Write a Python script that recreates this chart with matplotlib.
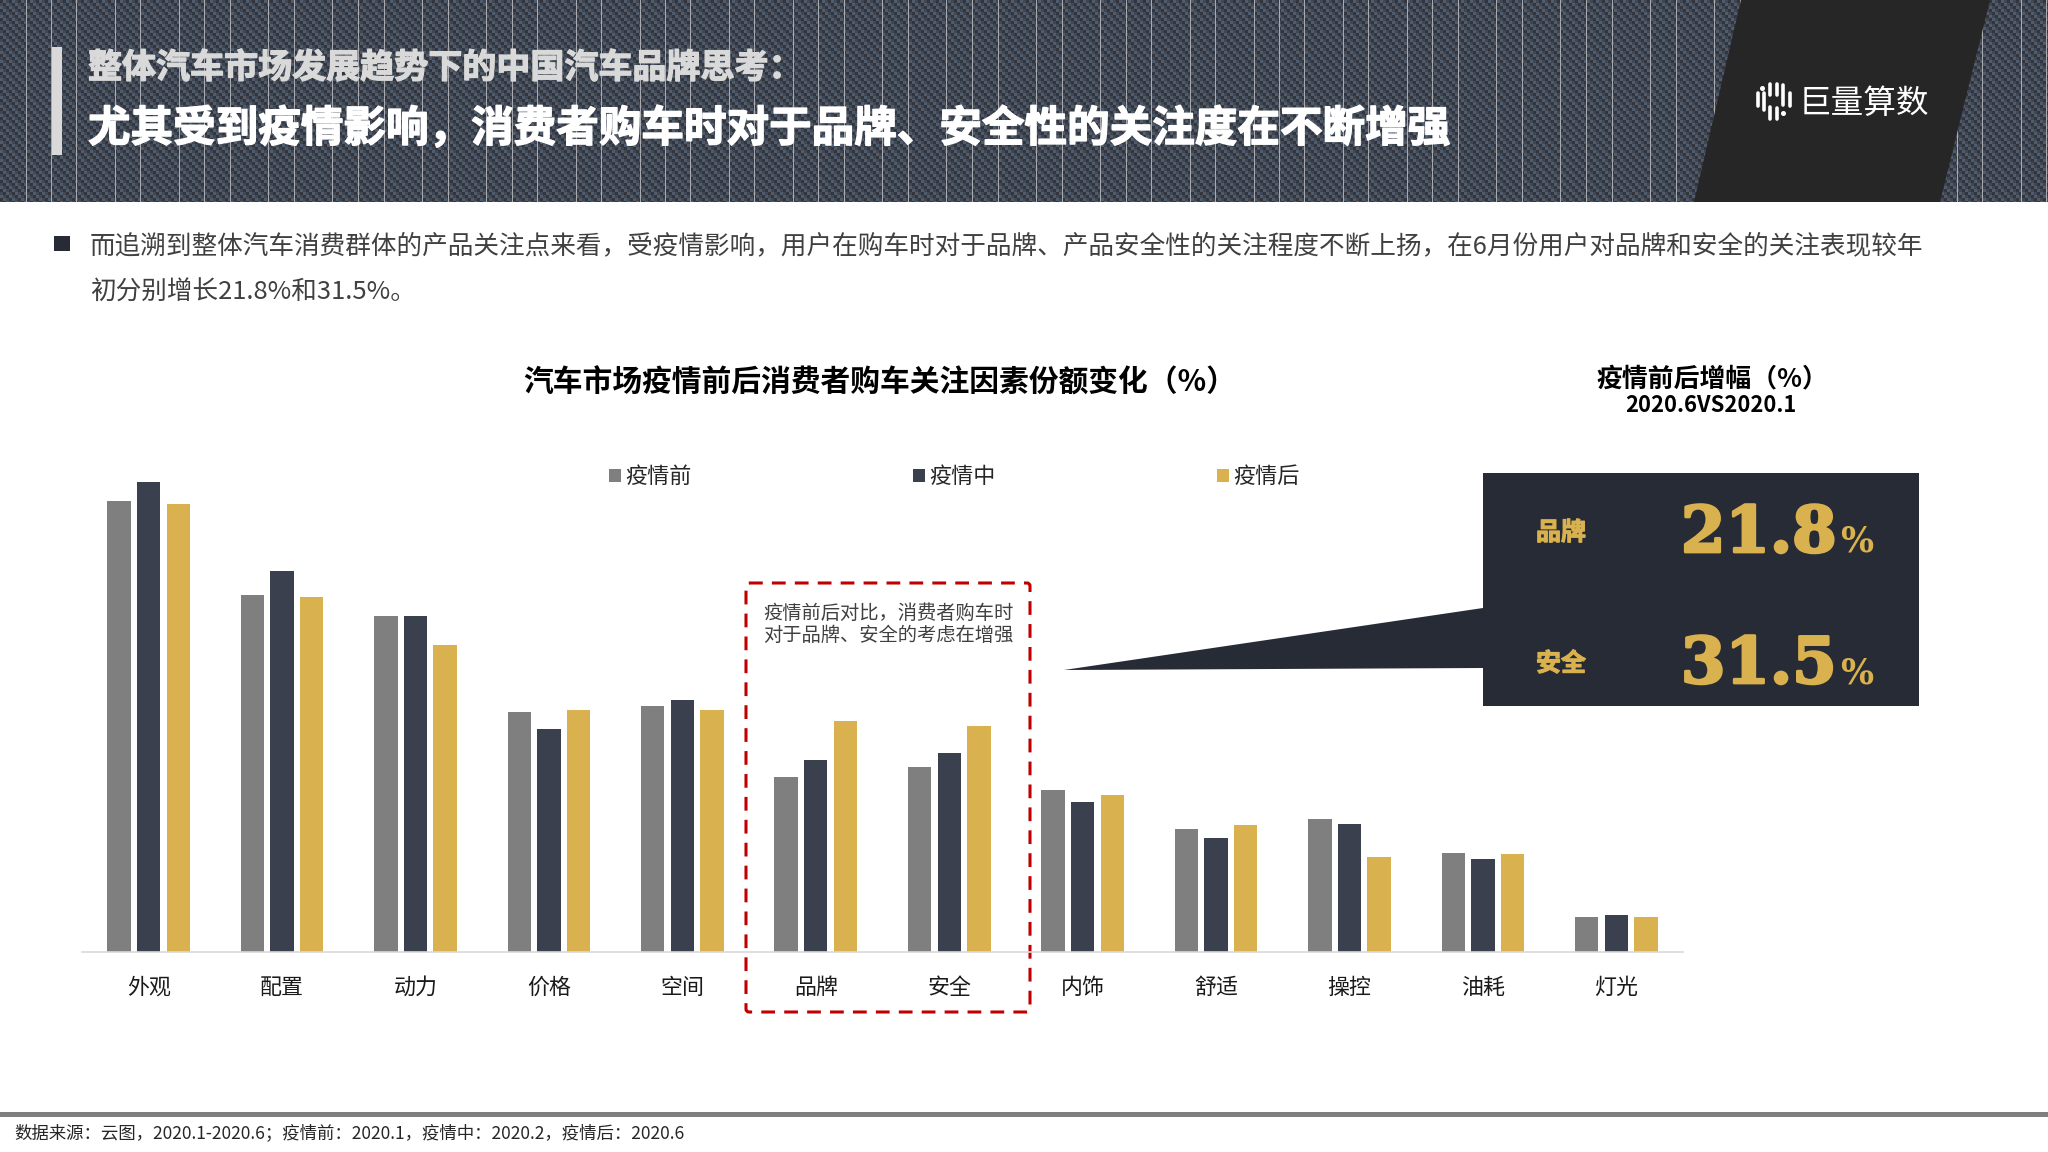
import numpy as np
import matplotlib
matplotlib.use("Agg")
import matplotlib.pyplot as plt
import matplotlib.patheffects as pe
from matplotlib.patches import Polygon, Rectangle, FancyBboxPatch

plt.rcParams['font.family'] = ['Noto Sans CJK SC', 'DejaVu Sans']

categories = ['外观', '配置', '动力', '价格', '空间', '品牌', '安全', '内饰', '舒适', '操控', '油耗', '灯光']
before = [34.5, 27.3, 25.7, 18.4, 18.8, 13.4, 14.2, 12.4, 9.4, 10.2, 7.6, 2.7]
during = [36.0, 29.2, 25.7, 17.1, 19.3, 14.7, 15.2, 11.5, 8.7, 9.8, 7.1, 2.8]
after = [34.3, 27.2, 23.5, 18.5, 18.5, 17.7, 17.3, 12.0, 9.7, 7.3, 7.5, 2.7]
series_names = ['疫情前', '疫情中', '疫情后']
series_colors = ['#7f7f7f', '#3a404e', '#d9b24f']

W, H = 2048, 1152
fig = plt.figure(figsize=(W / 100, H / 100), dpi=100, facecolor='white')

# pixel-coordinate layer for the slide furniture
bg = fig.add_axes([0, 0, 1, 1], zorder=0)
bg.set_xlim(0, W)
bg.set_ylim(H, 0)
bg.axis('off')

# header texture
hh = 202
yy, xx = np.mgrid[0:hh, 0:W]
k = ((xx // 3) - (yy // 3)) % 3
palette = np.array([[0x33, 0x35, 0x3a], [0x4d, 0x5c, 0x6e], [0x40, 0x47, 0x52]], dtype=float) / 255
tex = palette[k]
gap_cycle = [25.5, 25.5, 38.5, 25.5, 38.5]
pos, i = 25.5, 0
while pos < W:
    tex[:, int(round(pos))] = [0.66, 0.67, 0.69]
    pos += gap_cycle[i % 5]
    i += 1
bg.imshow(tex, extent=(0, W, hh, 0), interpolation='nearest', aspect='auto', zorder=0)
bg.set_xlim(0, W)
bg.set_ylim(H, 0)

bg.add_patch(Polygon([(1741, 0), (1990, 0), (1940, hh), (1694, hh)], closed=True, fc='#262626', ec='none', zorder=1))
bg.add_patch(Rectangle((52, 47), 10, 108, fc='#d9d9d9', ec='none', zorder=2))

t1 = bg.text(88, 67.5, '整体汽车市场发展趋势下的中国汽车品牌思考：', color='#d9d9d9', fontsize=24.5, fontweight='bold', va='center', ha='left', zorder=3)
t2 = bg.text(88, 128.5, '尤其受到疫情影响，消费者购车时对于品牌、安全性的关注度在不断增强', color='white', fontsize=30.65, fontweight='bold', va='center', ha='left', zorder=3)
t1.set_path_effects([pe.withStroke(linewidth=0.9, foreground='#d9d9d9')])
t2.set_path_effects([pe.withStroke(linewidth=1.0, foreground='white')])

# logo
logo_bars = [(1757.7, 93, 106), (1764, 93, 110), (1770, 84, 95), (1770, 107, 119),
             (1776.5, 84, 95), (1776.5, 108, 119), (1783, 85, 105), (1789.5, 93, 106)]
for lx, y0, y1 in logo_bars:
    bg.plot([lx, lx], [y0, y1], color='white', lw=2.6, solid_capstyle='round', zorder=3)
bg.plot([1762, 1783], [88, 113], ls='none', marker='o', ms=2.6, color='white', zorder=3)
bg.text(1863.5, 104, '巨量算数', color='white', fontsize=23.5, va='center', ha='center', zorder=3)

# body copy
bg.add_patch(Rectangle((54, 236), 16, 15, fc='#262b36', ec='none'))
bg.text(90, 246.5, '而追溯到整体汽车消费群体的产品关注点来看，受疫情影响，用户在购车时对于品牌、产品安全性的关注程度不断上扬，在6月份用户对品牌和安全的关注表现较年',
        color='#404040', fontsize=18.44, va='center', ha='left')
bg.text(90, 292.5, '初分别增长21.8%和31.5%。', color='#404040', fontsize=18.44, va='center', ha='left')

# titles
bg.text(880, 382.5, '汽车市场疫情前后消费者购车关注因素份额变化（%）', color='black', fontsize=21.45, fontweight='bold', va='center', ha='center')
bg.text(1712.5, 379, '疫情前后增幅（%）', color='black', fontsize=18.6, fontweight='bold', va='center', ha='center')
bg.text(1711, 405, '2020.6VS2020.1', color='black', fontsize=15.8, fontweight='bold', va='center', ha='center')

# call-out box
box_c = '#262b36'
bg.add_patch(Polygon([(1483, 473), (1919, 473), (1919, 706), (1483, 706), (1483, 668), (1064, 670), (1483, 608)],
                     closed=True, fc=box_c, ec='none', zorder=2))
gold = '#d9b24f'
for label, num, y in [('品牌', '21.8', 532), ('安全', '31.5', 663)]:
    lab = bg.text(1561, y + 1, label, color=gold, fontsize=18, fontweight='bold', va='center', ha='center', zorder=3)
    lab.set_path_effects([pe.withStroke(linewidth=0.8, foreground=gold)])
    n = bg.text(1681, y + 20, num, color=gold, fontsize=46, fontweight='bold', family='DejaVu Serif', va='baseline', ha='left', zorder=3)
    n.set_path_effects([pe.withStroke(linewidth=2.0, foreground=gold)])
    bg.text(1840, y + 20, '%', color=gold, fontsize=25, fontweight='bold', family='DejaVu Serif', va='baseline', ha='left', zorder=3)

# dashed highlight
bg.add_patch(FancyBboxPatch((748, 585), 280, 425, boxstyle='round,pad=2,rounding_size=3', fc='none', ec='#c00000',
                            lw=2.2, ls=(0, (4.5, 3)), zorder=5))
bg.text(763, 613, '疫情前后对比，消费者购车时', color='#404040', fontsize=13.9, va='center', ha='left', zorder=5)
bg.text(763, 635, '对于品牌、安全的考虑在增强', color='#404040', fontsize=13.9, va='center', ha='left', zorder=5)

# footer
bg.add_patch(Rectangle((0, 1112), W, 5, fc='#7f7f7f', ec='none'))
bg.text(14, 1133, '数据来源：云图，2020.1-2020.6；疫情前：2020.1，疫情中：2020.2，疫情后：2020.6', color='#262626', fontsize=12.55, va='center', ha='left')

# chart
left, right, base, top = 82, 1683, 952, 460
ax = fig.add_axes([left / W, 1 - base / H, (right - left) / W, (base - top) / H], zorder=1)
ax.patch.set_alpha(0)
x = np.arange(len(categories))
offset = 0.222
width = 0.175
for j, (vals, name, col) in enumerate(zip([before, during, after], series_names, series_colors)):
    ax.bar(x + (j - 1) * offset, vals, width=width, color=col, label=name, linewidth=0)
ax.set_xlim(-0.5, len(categories) - 0.5)
ax.set_ylim(0, (base - top) / (2048 / 1568) / 10)
ax.set_yticks([])
ax.set_xticks(x, categories, fontsize=15.8, color='#1a1a1a')
ax.tick_params(axis='x', length=0, pad=18)
for s in ['top', 'left', 'right']:
    ax.spines[s].set_visible(False)
ax.spines['bottom'].set_color('#d9d9d9')
ax.spines['bottom'].set_linewidth(1.2)

leg = ax.legend(loc='center left', bbox_to_anchor=(609 / W, 1 - 477 / H), bbox_transform=fig.transFigure,
                ncol=3, frameon=False, fontsize=15.9, handlelength=0.55, handleheight=0.55,
                handletextpad=0.2, columnspacing=10.0, borderpad=0, borderaxespad=0)
for t in leg.get_texts():
    t.set_color('#262626')

fig.savefig('out.png', dpi=100, facecolor='white')
